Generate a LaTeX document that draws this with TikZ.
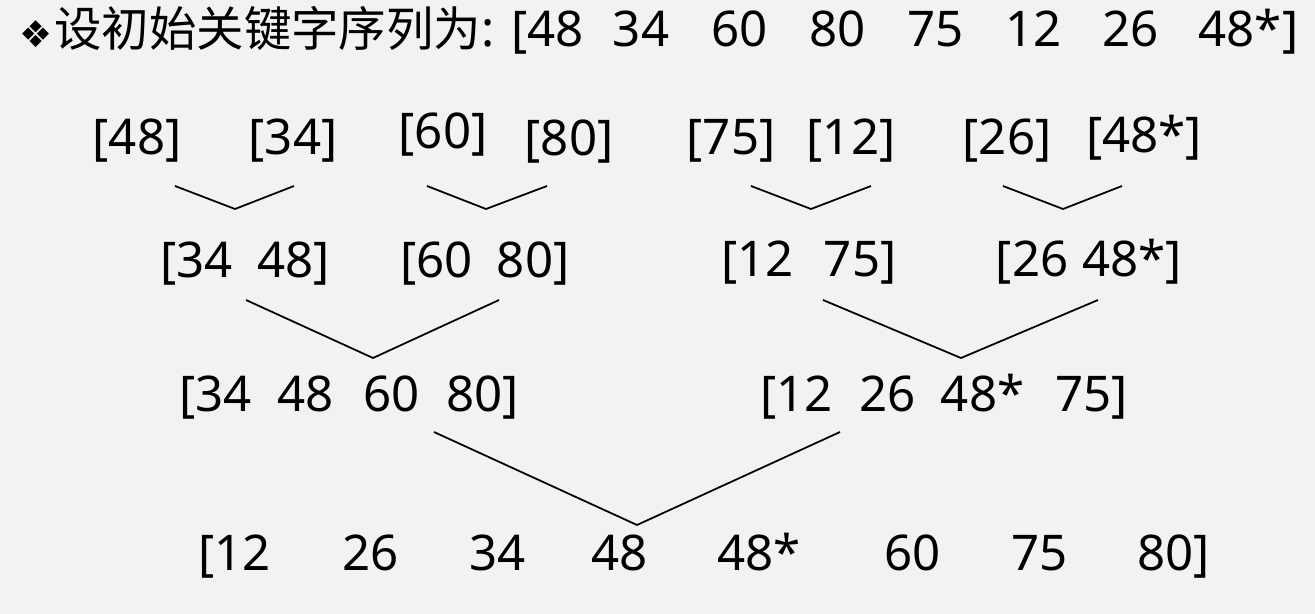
\documentclass[tikz,border=0pt]{standalone}
\usepackage{fontspec}
\setmainfont{Noto Sans}
\newfontfamily\cjk{Noto Sans CJK SC}
\newfontfamily\symfont{DejaVu Sans}
\usepackage{tikz}

\newlength\pxu
\setlength\pxu{0.02cm}
\newcommand\gapw[1]{\hspace{#1\pxu}}
\definecolor{slidebg}{RGB}{242,242,242}
\tikzset{
  keys/.style={font=\fontsize{28}{32}\selectfont, inner sep=0pt, anchor=base},
  merge/.style={line width=1pt, black}
}

\begin{document}
\begin{tikzpicture}[x=0.02cm, y=-0.02cm]
\fill[slidebg] (0,0) rectangle (1315,614);
\useasboundingbox (0,0) rectangle (1315,614);

% title line
\node[inner sep=0pt, font=\symfont\fontsize{21}{24}\selectfont] (bullet) at (36,34) {❖};
\node[keys, anchor=base west] (title) at (54,47) {{\cjk\fontsize{27}{32}\selectfont 设初始关键字序列为}: [48\gapw{29}34\gapw{42}60\gapw{42}80\gapw{42}75\gapw{41}12\gapw{41}26\gapw{40}48*]};

% runs of length 1
\node[keys] (r1a) at (137,155) {[48]};
\node[keys] (r1b) at (293,155) {[34]};
\node[keys] (r1c) at (443,149) {[60]};
\node[keys] (r1d) at (569,156) {[80]};
\node[keys] (r1e) at (731,155) {[75]};
\node[keys] (r1f) at (851,155) {[12]};
\node[keys] (r1g) at (1007,155) {[26]};
\node[keys] (r1h) at (1144,153) {[48*]};

% runs of length 2
\node[keys] (r2a) at (245,278) {[34\gapw{25}48]};
\node[keys] (r2b) at (485,278) {[60\gapw{24}80]};
\node[keys] (r2c) at (809,277) {[12\gapw{30}75]};
\node[keys] (r2d) at (1089,277) {[26\gapw{14}48*]};

% runs of length 4
\node[keys] (r3a) at (349,412) {[34\gapw{26}48\gapw{29}60\gapw{27}80]};
\node[keys] (r3b) at (944,412) {[12\gapw{27}26\gapw{25}48*\gapw{31}75]};

% result
\node[keys] (r4) at (704,570) {[12\gapw{72}26\gapw{71}34\gapw{65}48\gapw{70}48*\gapw{84}60\gapw{70}75\gapw{70}80]};

% merge points
\coordinate (m1a) at (235,209);
\coordinate (m1al) at (175,186);
\coordinate (m1ar) at (294,186);
\coordinate (m1b) at (486,209);
\coordinate (m1bl) at (427,186);
\coordinate (m1br) at (547,186);
\coordinate (m1c) at (811,209);
\coordinate (m1cl) at (751,186);
\coordinate (m1cr) at (871,186);
\coordinate (m1d) at (1063,209);
\coordinate (m1dl) at (1003,186);
\coordinate (m1dr) at (1122,186);
\coordinate (m2a) at (373,358);
\coordinate (m2al) at (246,300);
\coordinate (m2ar) at (499,300);
\coordinate (m2b) at (961,358);
\coordinate (m2bl) at (823,300);
\coordinate (m2br) at (1098,300);
\coordinate (m3) at (637,525);
\coordinate (m3l) at (434,432);
\coordinate (m3r) at (840,432);

\draw[merge] (m1al) -- (m1a) -- (m1ar);
\draw[merge] (m1bl) -- (m1b) -- (m1br);
\draw[merge] (m1cl) -- (m1c) -- (m1cr);
\draw[merge] (m1dl) -- (m1d) -- (m1dr);
\draw[merge] (m2al) -- (m2a) -- (m2ar);
\draw[merge] (m2bl) -- (m2b) -- (m2br);
\draw[merge] (m3l) -- (m3) -- (m3r);
\end{tikzpicture}
\end{document}
